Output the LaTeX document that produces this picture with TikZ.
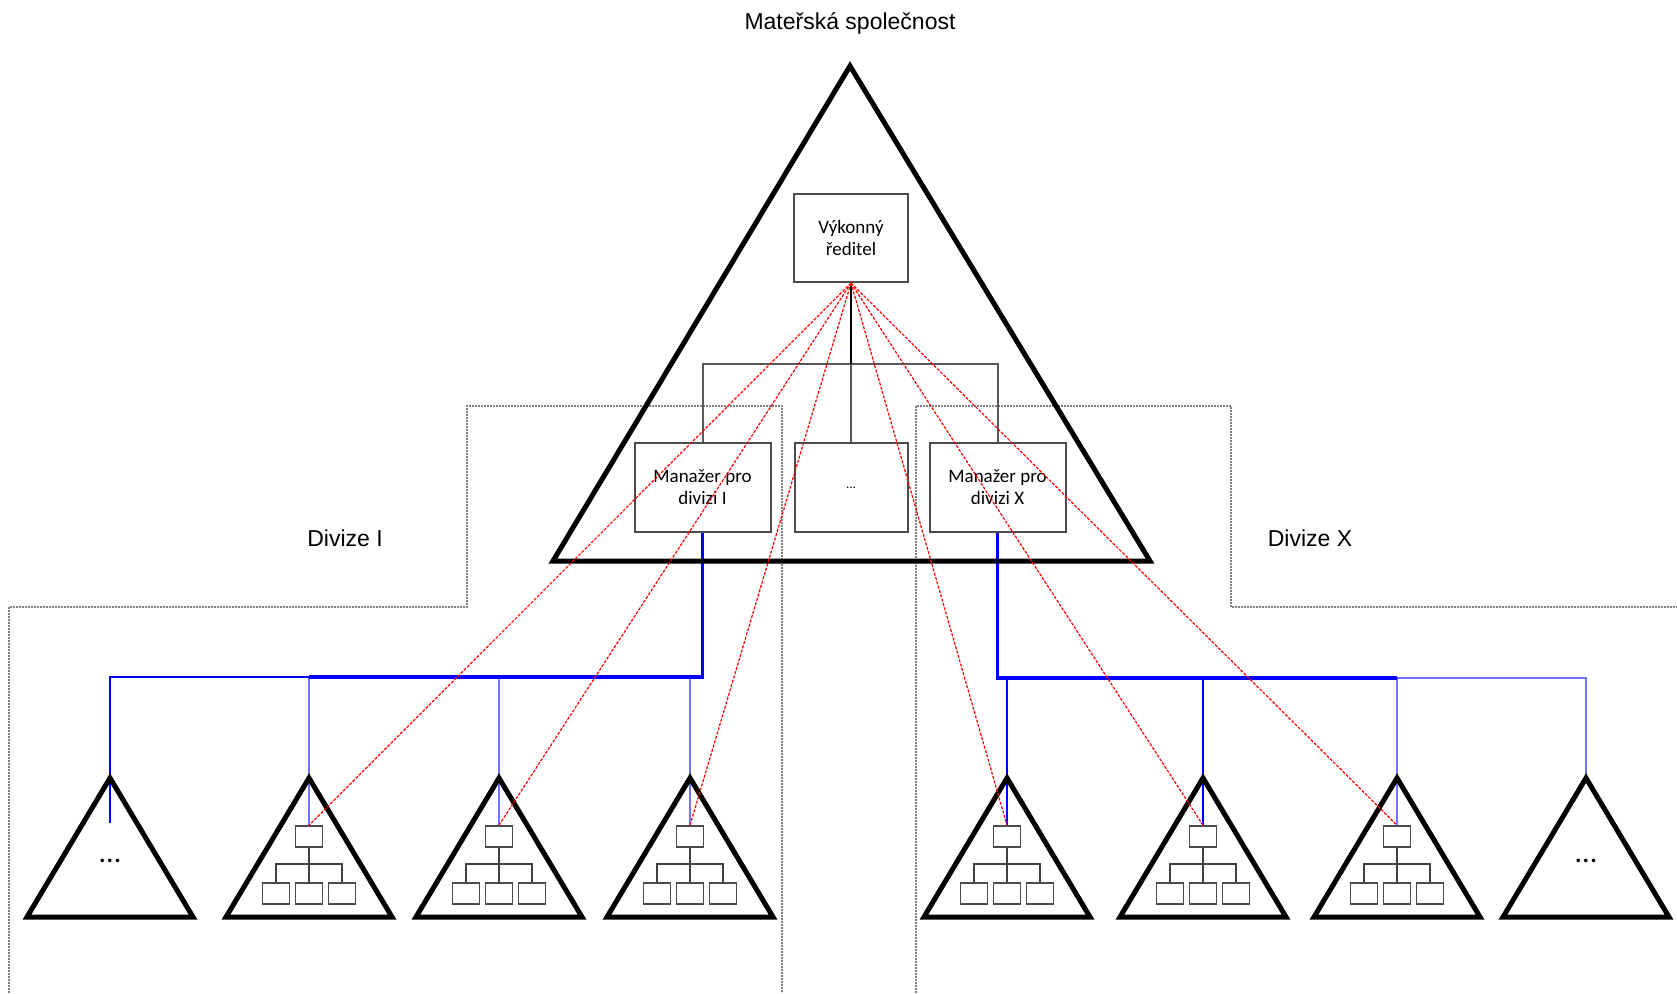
\documentclass[tikz,border=0pt]{standalone}
\usepackage{fontspec}
\setmainfont{Liberation Sans}
\newfontfamily\calfont{Carlito}
\usetikzlibrary{calc,backgrounds}

\tikzset{
  tri/.style={line width=5pt,line join=miter},
  chart/.style={draw=black!70,line width=2pt,minimum height=89pt,inner sep=0pt,align=center,font=\calfont\fontsize{19}{22}\selectfont},
  mini/.style={draw=black!70,line width=1.6pt,minimum width=27pt,minimum height=21pt,inner sep=0pt},
  minilink/.style={draw=black!75,line width=1.6pt},
  link/.style={draw=black!65,line width=2pt},
  bthick/.style={draw=blue,line width=3.5pt},
  bthin/.style={draw=blue,line width=2pt},
  blight/.style={draw=blue,opacity=.55,line width=2pt},
  redline/.style={draw=red,line width=1.2pt,dash pattern=on 3pt off 1.5pt},
  area/.style={draw=black!50,line width=1.8pt,dash pattern=on 2pt off 1pt},
  caption/.style={font=\fontsize{23}{27}\selectfont},
  dots/.style={inner sep=0pt,font=\calfont\fontsize{30}{30}\selectfont}
}

\newcommand{\orgtri}[2]{%
  \draw[tri] (#2,778) -- (#2-83,917) -- (#2+83,917) -- cycle;
  \node[mini] (#1) at (#2,836.5) {};
  \node[mini] (#1l) at (#2-33,893.5) {};
  \node[mini] (#1m) at (#2,893.5) {};
  \node[mini] (#1r) at (#2+33,893.5) {};
  \draw[minilink] (#1) -- (#1m) (#1l.north) -- ++(0,-18) -| (#1r.north);
}

\begin{document}
\begin{tikzpicture}[x=1pt,y=-1pt]
\useasboundingbox (0,0) rectangle (1677,993);

\node[caption] (parent) at (850,23) {Mateřská společnost};
\node[caption] (divi) at (345,538) {Divize I};
\node[caption] (divx) at (1310,538) {Divize X};

\draw[tri] (850,66) -- (553,561) -- (1150,561) -- cycle;

\node[chart,minimum width=114pt,minimum height=88pt] (ceo) at (851,238) {Výkonný\\ředitel};
\node[chart,minimum width=136pt] (mgr1) at (702.5,487.5) {Manažer pro\\divizi I};
\node[chart,minimum width=113pt,font=\calfont\fontsize{13}{15}\selectfont] (mgrs) at (851,487.5) {...};
\node[chart,minimum width=136pt] (mgrx) at (997.5,487.5) {Manažer pro\\divizi X};

\coordinate (hub) at (851,364);
\draw[link] (mgr1.north) |- (hub) -| (mgrx.north);
\draw[link] (hub) -- (mgrs.north);
\draw[link,draw=black,line width=2.5pt] (ceo.south) -- (hub);

% divisions
\draw[tri] (110,778) -- (27,917) -- (193,917) -- cycle;
\node[dots] (t1dots) at (110,861) {...};
\coordinate (t1) at (110,823);
\orgtri{t2}{309}
\orgtri{t3}{499}
\orgtri{t4}{690}
\orgtri{t5}{1007}
\orgtri{t6}{1203}
\orgtri{t7}{1397}
\draw[tri] (1586,778) -- (1503,917) -- (1669,917) -- cycle;
\node[dots] (t8dots) at (1586,861) {...};
\coordinate (t8) at (1586,778);

\begin{scope}[on background layer]
\draw[area] (9,993) -- (9,607) -- (467,607) -- (467,406) -- (782,406) -- (782,993);
\draw[area] (916,993) -- (916,406) -- (1231,406) -- (1231,607) -- (1677,607);

\coordinate (bj1) at (309,677);
\coordinate (bj2) at (1397,678);
\draw[bthick] (mgr1.south) |- (bj1);
\draw[bthin] (bj1) -| (t1);
\draw[blight] (bj1) -- (t2.north);
\draw[blight] (t3.north |- bj1) -- (t3.north);
\draw[blight] (t4.north |- bj1) -- (t4.north);
\draw[bthick] (mgrx.south) |- (bj2);
\draw[blight] (bj2) -| (t8);
\draw[bthin] (t5.north |- bj2) -- (t5.north);
\draw[bthin] (t6.north |- bj2) -- (t6.north);
\draw[blight] (bj2) -- (t7.north);
\end{scope}

\path[redline] (ceo.south) edge (t2.north) (ceo.south) edge (t3.north) (ceo.south) edge (t4.north)
  (ceo.south) edge (t5.north) (ceo.south) edge (t6.north) (ceo.south) edge (t7.north);

\end{tikzpicture}
\end{document}
